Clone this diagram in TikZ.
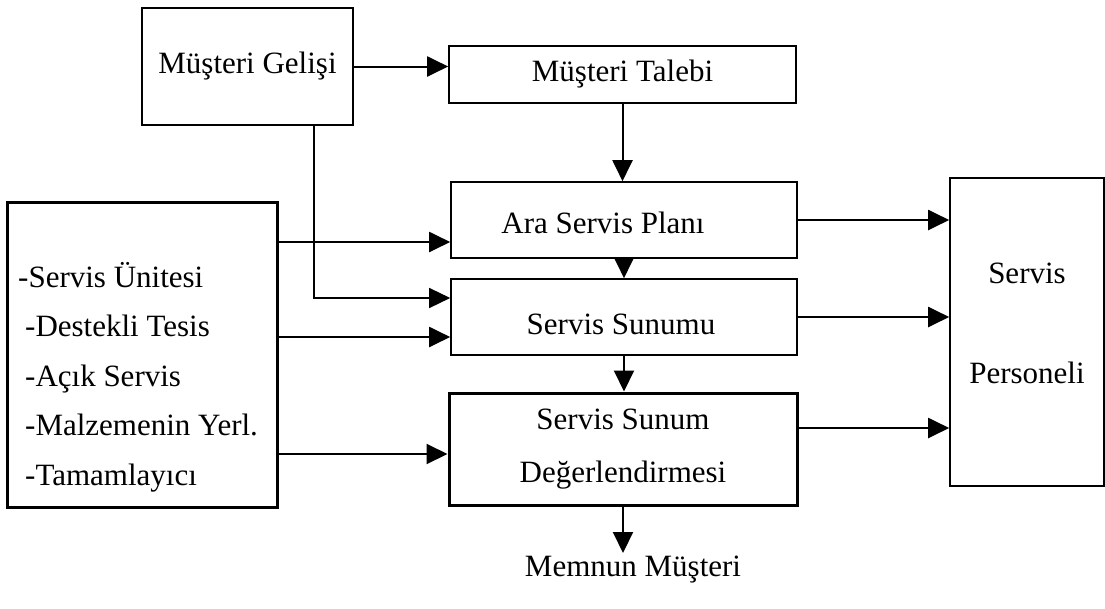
\documentclass[tikz,border=0pt]{standalone}
\usepackage{fontspec}
\setmainfont{Liberation Serif}
\usetikzlibrary{arrows.meta,calc}
\begin{document}
\begin{tikzpicture}[x=1pt,y=-1pt,
  txt/.style={font=\fontsize{31}{37}\selectfont},
  box/.style={draw, line width=1.6pt, rectangle, inner sep=0pt, txt, align=center},
  thickbox/.style={box, line width=3pt},
  conn/.style={line width=2pt, -{Triangle[length=21pt,width=20pt]}},
  thinconn/.style={conn, line width=1.4pt}]
\useasboundingbox (0,0) rectangle (1105,608);
\node[box, minimum width=211pt, minimum height=117pt] (gelis) at (247.5,66.5) {Müşteri Gelişi};
\node[box, minimum width=347pt, minimum height=57pt] (talebi) at (622.5,74.5) {Müşteri Talebi};
\node[box, minimum width=346pt, minimum height=76pt,
  label={[txt, xshift=-21pt, yshift=-3pt]center:Ara Servis Planı}] (ara) at (624,220) {};
\node[box, minimum width=346pt, minimum height=76pt,
  label={[txt, xshift=-3pt, yshift=-7pt]center:Servis Sunumu}] (sunumu) at (624,317) {};
\node[thickbox, minimum width=348pt, minimum height=112pt] (deg) at (623,449) {Servis Sunum\\[16pt]Değerlendirmesi};
\node[box, minimum width=154pt, minimum height=308pt,
  label={[txt, align=center, yshift=9pt]center:Servis\\[63pt]Personeli}] (pers) at (1027,332) {};
\node[thickbox, minimum width=270pt, minimum height=305pt] (kaynak) at (142,354.5) {};
\node[txt, anchor=west, align=left, inner sep=0pt, font=\fontsize{31}{49.5}\selectfont] (liste) at (18,377)
  {-Servis Ünitesi\\\hspace{7pt}-Destekli Tesis\\\hspace{7pt}-Açık Servis\\\hspace{7pt}-Malzemenin Yerl.\\\hspace{7pt}-Tamamlayıcı};
\node[txt, inner sep=0pt] (memnun) at (633,570) {Memnun Müşteri};
\coordinate (mend) at (623,553);

\draw[conn] (gelis.east) -- (gelis.east -| talebi.west);
\draw[conn] (talebi.south) -- (talebi.south |- ara.north);
\draw[conn] (ara.south) -- (sunumu.north);
\draw[conn] (sunumu.south) -- (sunumu.south |- deg.north);
\draw[conn] (deg.south) -- (mend);

\draw[thinconn] ([xshift=66.5pt]gelis.south) |- ([yshift=19pt]sunumu.west);

\draw[conn] ([yshift=-22pt]ara.west -| kaynak.east) -- ([yshift=-22pt]ara.west);
\draw[conn] ([yshift=-20pt]sunumu.west -| kaynak.east) -- ([yshift=-20pt]sunumu.west);
\draw[conn] ([yshift=-5pt]deg.west -| kaynak.east) -- ([yshift=-5pt]deg.west);

\draw[conn] (ara.east) -- (ara.east -| pers.west);
\draw[conn] (sunumu.east) -- (sunumu.east -| pers.west);
\draw[conn] ([yshift=21pt]deg.east) -- ([yshift=21pt]deg.east -| pers.west);
\end{tikzpicture}
\end{document}
